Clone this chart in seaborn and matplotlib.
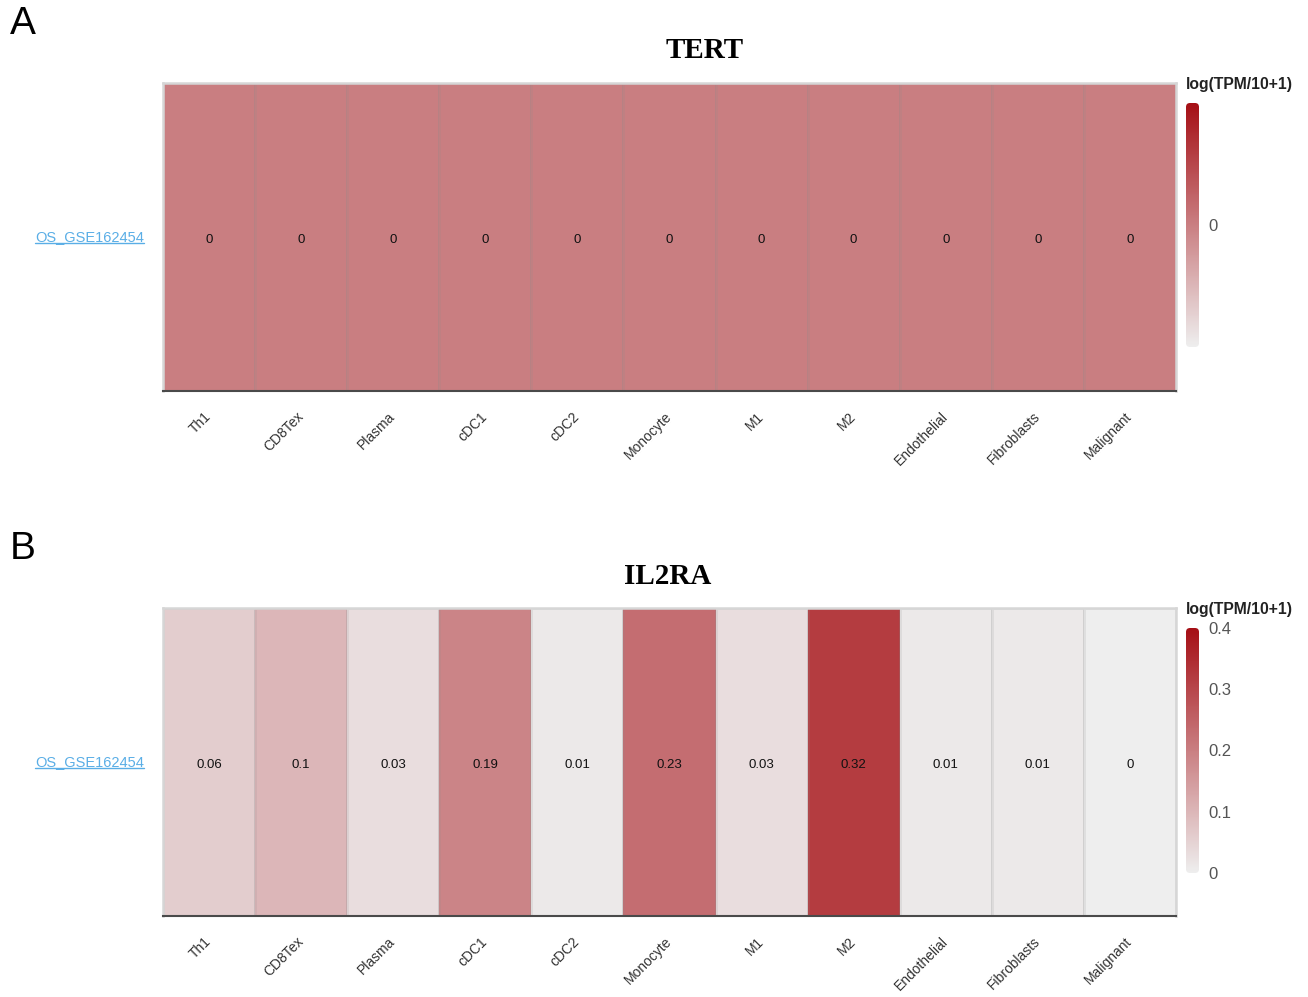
import numpy as np
import pandas as pd
import matplotlib
matplotlib.use("Agg")
import matplotlib.pyplot as plt
import seaborn as sns
from matplotlib.colors import LinearSegmentedColormap
from matplotlib.patches import FancyBboxPatch
from matplotlib.transforms import IdentityTransform
from matplotlib.lines import Line2D

# ---- data -------------------------------------------------------------
cell_types = ["Th1", "CD8Tex", "Plasma", "cDC1", "cDC2", "Monocyte",
              "M1", "M2", "Endothelial", "Fibroblasts", "Malignant"]
datasets = ["OS_GSE162454"]
tert_values = [0, 0, 0, 0, 0, 0, 0, 0, 0, 0, 0]
il2ra_values = [0.06, 0.1, 0.03, 0.19, 0.01, 0.23, 0.03, 0.32, 0.01, 0.01, 0]

# ---- style ------------------------------------------------------------
sns.set_theme(style="white")
plt.rcParams["font.family"] = ["Liberation Sans", "DejaVu Sans"]

cmap = LinearSegmentedColormap.from_list("expr", ["#eeeeee", "#a50f15"])

W, H = 1308, 997
fig = plt.figure(figsize=(W / 100, H / 100), dpi=100)


def fx(px):
    return px / W


def fy(py):
    return 1 - py / H


panels = [
    dict(letter="A", gene="TERT", values=tert_values, vmin=-1, vmax=1, ticks=[0],
         top=83, bottom=391, cb_top=103, cb_bottom=347, title_x=705, title_y=51,
         letter_y=24),
    dict(letter="B", gene="IL2RA", values=il2ra_values, vmin=0, vmax=0.4,
         ticks=[0, 0.1, 0.2, 0.3, 0.4],
         top=608, bottom=916, cb_top=628, cb_bottom=873, title_x=668, title_y=576,
         letter_y=549),
]

row_labels = []
for p in panels:
    ax = fig.add_axes([fx(163), fy(p["bottom"]), fx(1176) - fx(163),
                       fy(p["top"]) - fy(p["bottom"])])
    cax = fig.add_axes([fx(1186), fy(p["cb_bottom"]), fx(1199) - fx(1186),
                        fy(p["cb_top"]) - fy(p["cb_bottom"])])
    df = pd.DataFrame([p["values"]], index=datasets, columns=cell_types)
    sns.heatmap(df, ax=ax, cbar_ax=cax, cmap=cmap, vmin=p["vmin"], vmax=p["vmax"],
                annot=True, fmt="g", annot_kws={"fontsize": 9.5, "color": "#111111"},
                linewidths=0.8, linecolor=(0.55, 0.55, 0.55, 0.15))
    for t in ax.texts:
        x, y = t.get_position()
        t.set_position((x, y + 0.01))

    # axes frame
    for side, sp in ax.spines.items():
        sp.set_visible(True)
        sp.set_color("#d6d6d6")
        sp.set_linewidth(1.8)
    ax.spines["bottom"].set_color("#4a4a4a")
    ax.spines["bottom"].set_linewidth(1.5)

    ax.set_xlabel("")
    ax.set_ylabel("")
    ax.set_xticklabels(cell_types, rotation=45, ha="right", va="center",
                       rotation_mode="anchor", fontsize=10, color="#333333")
    ax.tick_params(axis="x", length=0, pad=17)
    ax.set_yticklabels(datasets, rotation=0, fontsize=10.5, color="#5aaee6")
    ax.tick_params(axis="y", length=0, pad=13.5)
    row_labels.append(ax.get_yticklabels()[0])

    # colour bar
    cb = ax.collections[0].colorbar
    cb.outline.set_visible(False)
    cb.set_ticks(p["ticks"])
    cb.set_ticklabels([f"{t:g}" for t in p["ticks"]])
    cax.tick_params(axis="y", direction="in", length=9.4, width=1.3, color="white",
                    labelsize=12, labelcolor="#555555", pad=7)
    x0, y0 = fx(1186) * W, fy(p["cb_bottom"]) * H
    clip = FancyBboxPatch((x0, y0), 13, p["cb_bottom"] - p["cb_top"],
                          boxstyle="round,pad=0,rounding_size=4",
                          transform=IdentityTransform(), facecolor="none",
                          edgecolor="none")
    cb.solids.set_clip_path(clip)

    fig.text(fx(1186), fy(p["top"] + 1), "log(TPM/10+1)", ha="left", va="center",
             fontsize=11.3, fontweight="bold", color="#222222")
    fig.text(fx(p["title_x"]), fy(p["title_y"]), p["gene"], ha="center",
             va="center", fontsize=21, fontweight="bold",
             family=["Liberation Serif", "DejaVu Serif"], color="black")
    fig.text(fx(10), fy(p["letter_y"]), p["letter"], ha="left", va="center",
             fontsize=28, color="black")

# underline the dataset labels
fig.canvas.draw()
renderer = fig.canvas.get_renderer()
for lab in row_labels:
    bb = lab.get_window_extent(renderer)
    yline = bb.y0 + 1
    fig.add_artist(Line2D([bb.x0 / W, bb.x1 / W], [yline / H, yline / H],
                          color="#5aaee6", linewidth=1.0,
                          transform=fig.transFigure))

fig.savefig("out.png", dpi=100, facecolor="white")
